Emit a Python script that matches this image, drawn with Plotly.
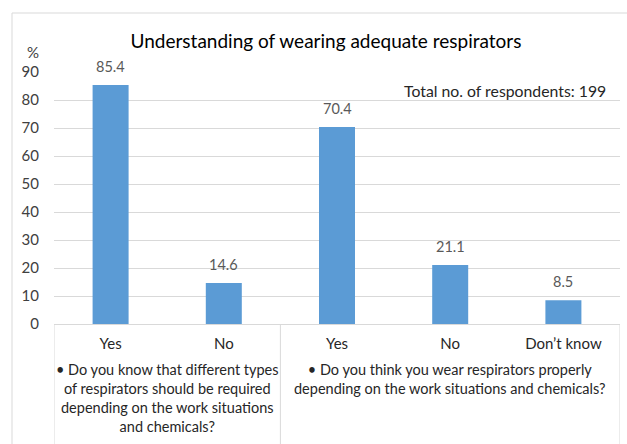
import plotly.graph_objects as go

categories = ["Yes", "No", "Yes", "No", "Don\u2019t know"]
values = [85.4, 14.6, 70.4, 21.1, 8.5]
value_labels = ["85.4", "14.6", "70.4", "21.1", "8.5"]
group_labels = [
    "\u2022 Do you know that different types<br>of respirators should be required<br>depending on the work situations<br>and chemicals?",
    "\u2022 Do you think you wear respirators properly<br>depending on the work situations and chemicals?",
]
group_centers = [0.5, 3.0]
group_edges = [-0.5, 1.5, 4.5]
y_ticks = [0, 10, 20, 30, 40, 50, 60, 70, 80, 90]
title_text = "Understanding of wearing adequate respirators"
note_text = "Total no. of respondents: 199"
FONT = "Lato, 'Open Sans', sans-serif"

W, H = 627, 444
L, R, T, B = 54, 7, 72, 120
pw, ph = W - L - R, H - T - B

def px_x(p):
    return (p - L) / pw

def px_y(p):
    return (H - B - p) / ph

xs = list(range(len(categories)))

fig = go.Figure()
fig.add_trace(go.Bar(
    x=xs, y=values, width=0.318,
    marker=dict(color="#5B9BD5", line=dict(width=0)),
    hoverinfo="skip",
))

annotations = []
for x, v, t in zip(xs, values, value_labels):
    annotations.append(dict(x=x, y=v, xref="x", yref="y", text=t, showarrow=False,
                            yanchor="bottom", yshift=8,
                            font=dict(family=FONT, size=14.5, color="#595959")))
for gc, gl in zip(group_centers, group_labels):
    annotations.append(dict(x=gc, y=px_y(359), xref="x", yref="paper", text=gl,
                            showarrow=False, yanchor="top", xanchor="center", align="center",
                            font=dict(family=FONT, size=14.5, color="#262626")))
annotations.append(dict(x=px_x(608), y=px_y(91), xref="paper", yref="paper", text=note_text,
                        showarrow=False, xanchor="right", yanchor="middle",
                        font=dict(family=FONT, size=15.8, color="#262626")))
annotations.append(dict(x=px_x(33), y=px_y(52), xref="paper", yref="paper", text="%",
                        showarrow=False, xanchor="center", yanchor="middle",
                        font=dict(family=FONT, size=15, color="#404040")))

shapes = []
for ge in group_edges:
    shapes.append(dict(type="line", xref="x", yref="paper", x0=ge, x1=ge, y0=0, y1=px_y(460),
                       line=dict(color="#D9D9D9", width=1)))
shapes.append(dict(type="rect", xref="paper", yref="paper", x0=px_x(12), x1=px_x(660),
                   y0=px_y(13), y1=px_y(470), line=dict(color="#D9D9D9", width=1),
                   fillcolor="rgba(0,0,0,0)", layer="below"))

fig.update_layout(
    width=W, height=H,
    margin=dict(l=L, r=R, t=T, b=B, pad=0),
    paper_bgcolor="white", plot_bgcolor="white",
    showlegend=False,
    title=dict(text=title_text, x=326 / W, xanchor="center", y=1 - 41 / H, yanchor="middle",
               font=dict(family=FONT, size=19, color="#000000")),
    xaxis=dict(range=[-0.5, 4.5], tickvals=xs, ticktext=categories, showgrid=False,
               showline=True, linecolor="#D9D9D9", linewidth=1, ticks="", zeroline=False,
               ticklabelstandoff=6, tickfont=dict(family=FONT, size=15, color="#262626"),
               fixedrange=True),
    yaxis=dict(range=[0, 90], tickvals=y_ticks, showgrid=True, gridcolor="#D9D9D9", gridwidth=1,
               zeroline=False, showline=False, ticks="", ticklabelstandoff=14,
               tickfont=dict(family=FONT, size=15, color="#404040"), fixedrange=True),
    annotations=annotations,
    shapes=shapes,
)

fig.write_html("out.html")
